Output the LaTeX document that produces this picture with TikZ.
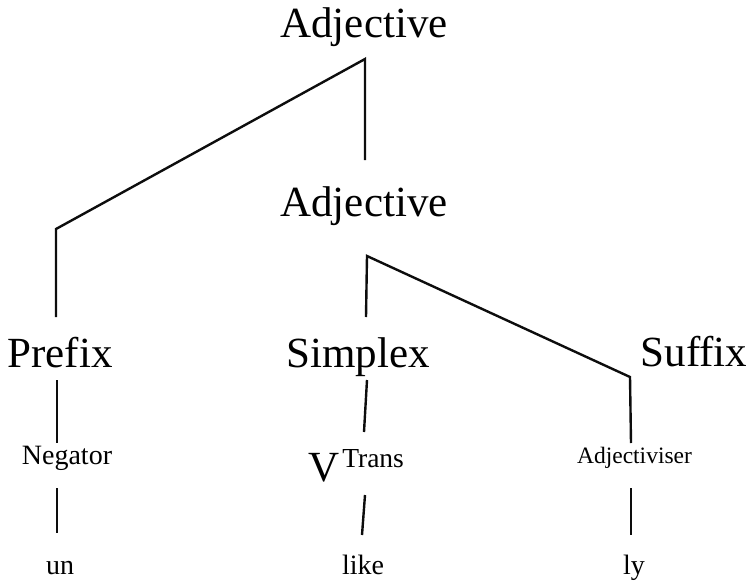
\documentclass[tikz,border=0pt]{standalone}
\usepackage{fontspec}
\setmainfont{Liberation Serif}
\begin{document}
\begin{tikzpicture}[x=1pt,y=-1pt,
  big/.style={inner sep=0pt,anchor=base,font=\fontsize{43}{43}\selectfont},
  mid/.style={inner sep=0pt,anchor=base,font=\fontsize{28}{28}\selectfont},
  small/.style={inner sep=0pt,anchor=base,font=\fontsize{23.5}{24}\selectfont},
  branch/.style={line width=2.4pt,line join=miter,color=black!95}]
\useasboundingbox (0,0) rectangle (747,584);

% labels of the tree
\node[big] (adjtop) at (364,37) {Adjective};
\node[big] (adjmid) at (364,216) {Adjective};
\node[big] (prefix) at (60,367) {Prefix};
\node[big] (simplex) at (358,367) {Simplex};
\node[big] (suffix) at (694,366) {Suffix};
\node[mid] (negator) at (67,464) {Negator};
\node[inner sep=0pt,anchor=base west] (vtrans) at (308,481)
  {\fontsize{43}{43}\selectfont V\hspace{3pt}\raisebox{14pt}{\fontsize{27.5}{28}\selectfont Trans}};
\node[small] (adjer) at (634.5,463) {Adjectiviser};
\node[mid] (un) at (60,574) {un};
\node[mid] (like) at (363,574) {like};
\node[mid] (ly) at (634,574) {ly};

% branch points
\coordinate (a1) at (365,59);
\coordinate (a1l) at (56,229);
\coordinate (a1b) at (56,317);
\coordinate (a1r) at (365,160);
\coordinate (a2) at (367,256);
\coordinate (a2b) at (366,317);
\coordinate (a2r) at (630,377);
\coordinate (a2rb) at (631,443);
\coordinate (p1) at (57,380);
\coordinate (p2) at (57,443);
\coordinate (s1) at (367,380);
\coordinate (s2) at (364,432);
\coordinate (n1) at (57,488);
\coordinate (n2) at (57,533);
\coordinate (v1) at (365,495);
\coordinate (v2) at (362,535);
\coordinate (j1) at (631,488);
\coordinate (j2) at (631,535);

% branches
\draw[branch] (a1b) -- (a1l) -- (a1) -- (a1r);
\draw[branch] (a2b) -- (a2) -- (a2r) -- (a2rb);
\draw[branch] (p1) -- (p2);
\draw[branch] (s1) -- (s2);
\draw[branch] (n1) -- (n2);
\draw[branch] (v1) -- (v2);
\draw[branch] (j1) -- (j2);
\end{tikzpicture}
\end{document}
